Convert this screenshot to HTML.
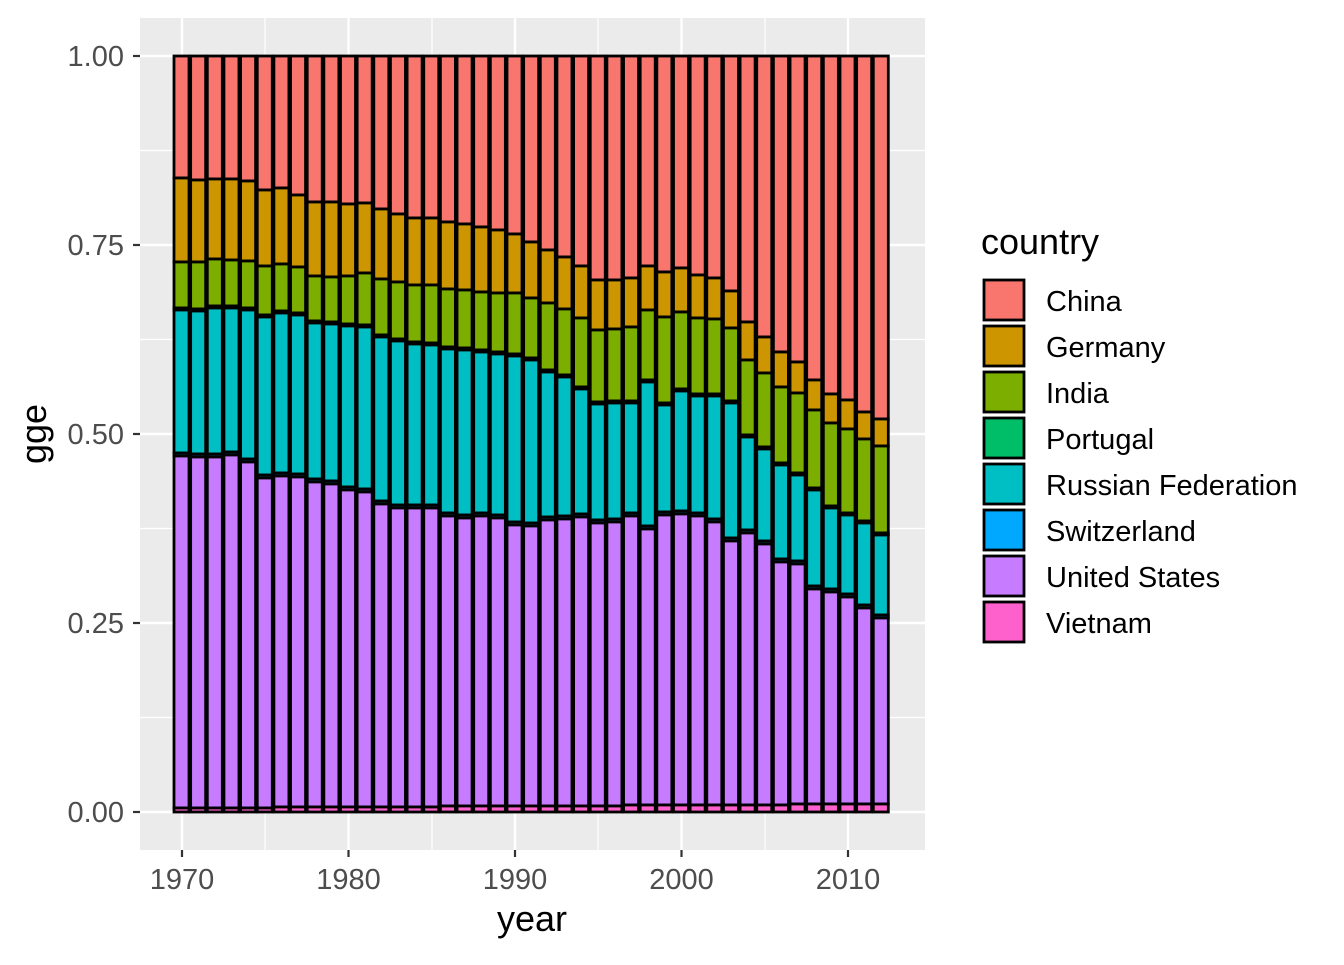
<!DOCTYPE html>
<html><head><meta charset="utf-8"><style>
body{margin:0;background:#fff}
svg text{font-family:"Liberation Sans",Arial,sans-serif}
</style></head><body>
<svg id="s" width="1344" height="960" xmlns="http://www.w3.org/2000/svg">
<rect x="0" y="0" width="1344" height="960" fill="#fff"/>
<rect x="140" y="18" width="785" height="832" fill="#EBEBEB"/>
<g stroke="#fff" stroke-width="1.2">
<line x1="140" x2="925" y1="150.5" y2="150.5"/><line x1="140" x2="925" y1="339.5" y2="339.5"/>
<line x1="140" x2="925" y1="528.5" y2="528.5"/><line x1="140" x2="925" y1="717.5" y2="717.5"/>
<line y1="18" y2="850" x1="265" x2="265"/><line y1="18" y2="850" x1="432" x2="432"/>
<line y1="18" y2="850" x1="598" x2="598"/><line y1="18" y2="850" x1="765" x2="765"/>
</g>
<g stroke="#fff" stroke-width="2.4">
<line x1="140" x2="925" y1="56" y2="56"/><line x1="140" x2="925" y1="245" y2="245"/>
<line x1="140" x2="925" y1="434" y2="434"/><line x1="140" x2="925" y1="623" y2="623"/>
<line x1="140" x2="925" y1="812" y2="812"/>
<line y1="18" y2="850" x1="182" x2="182"/><line y1="18" y2="850" x1="348.5" x2="348.5"/>
<line y1="18" y2="850" x1="515" x2="515"/><line y1="18" y2="850" x1="681.5" x2="681.5"/>
<line y1="18" y2="850" x1="848" x2="848"/>
</g>
<g id="bars"></g>
<g stroke="#333" stroke-width="2.2">
<line x1="133" x2="140" y1="56" y2="56"/><line x1="133" x2="140" y1="245" y2="245"/>
<line x1="133" x2="140" y1="434" y2="434"/><line x1="133" x2="140" y1="623" y2="623"/>
<line x1="133" x2="140" y1="812" y2="812"/>
<line y1="850" y2="857" x1="182" x2="182"/><line y1="850" y2="857" x1="348.5" x2="348.5"/>
<line y1="850" y2="857" x1="515" x2="515"/><line y1="850" y2="857" x1="681.5" x2="681.5"/>
<line y1="850" y2="857" x1="848" x2="848"/>
</g>
<g fill="#4D4D4D" font-size="29" text-anchor="end">
<text x="124" y="66">1.00</text><text x="124" y="255">0.75</text><text x="124" y="444">0.50</text>
<text x="124" y="633">0.25</text><text x="124" y="822">0.00</text>
</g>
<g fill="#4D4D4D" font-size="29" text-anchor="middle">
<text x="182" y="889">1970</text><text x="348.5" y="889">1980</text><text x="515" y="889">1990</text>
<text x="681.5" y="889">2000</text><text x="848" y="889">2010</text>
</g>
<text x="532" y="931" font-size="36" text-anchor="middle">year</text>
<text transform="translate(46,434) rotate(-90)" font-size="36" text-anchor="middle">gge</text>
<text x="981" y="254" font-size="36">country</text>
<g id="leg"></g>
</svg>
<script>
var ge=[178,180,179,179,181,190,188,195,202,202,204,203,209,214,218,218,222,224,227,230,234,242,250,257,266,280,280,278,266,272,268,275,278,291,322,337,352,362,380,394,400,412,419];
var ind=[262,262,259,260,261,266,264,267,276,277,276,273,279,282,285,285,289,290,292,293,293,298,303,309,318,330,329,327,310,317,312,318,319,328,360,373,387,393,410,423,429,439,446];
var ru=[310,311,308,308,310,317,313,315,323,324,326,327,337,341,344,345,349,350,352,354,356,360,372,377,389,404,403,403,382,405,391,396,396,403,437,449,465,475,490,508,515,523,535];
var us=[456,457,457,455,462,478,476,477,482,484,490,492,504,508,508,508,516,518,516,518,525,526,520,519,517,523,522,516,529,515,514,516,522,541,533,544,562,564,589,592,597,608,618];
var cols=["#F8766D","#CD9600","#7CAE00","#00BE67","#00BFC4","#00A9FF","#C77CFF","#FF61CC"];
var h="";
for(var i=0;i<43;i++){
 var cx=181.5+i*16.65, x=cx-7.5, w=15;
 var vt=808-Math.round(i*4/42);
 var b=[56,ge[i],ind[i],ru[i]-2,ru[i],us[i]-3,us[i],vt,812];
 for(var k=0;k<8;k++){
  h+='<rect x="'+x.toFixed(2)+'" y="'+b[k]+'" width="'+w+'" height="'+(b[k+1]-b[k])+'" fill="'+cols[k]+'" stroke="#000" stroke-width="2.8"/>';
 }
}
document.getElementById("bars").innerHTML=h;
var names=["China","Germany","India","Portugal","Russian Federation","Switzerland","United States","Vietnam"];
var l="";
for(var k=0;k<8;k++){
 var y=279+k*46;
 l+='<rect x="984" y="'+(y+1)+'" width="40" height="40" fill="'+cols[k]+'" stroke="#000" stroke-width="2.8"/>';
 l+='<text x="1046" y="'+(y+32)+'" font-size="29">'+names[k]+'</text>';
}
document.getElementById("leg").innerHTML=l;
</script>
</body></html>
